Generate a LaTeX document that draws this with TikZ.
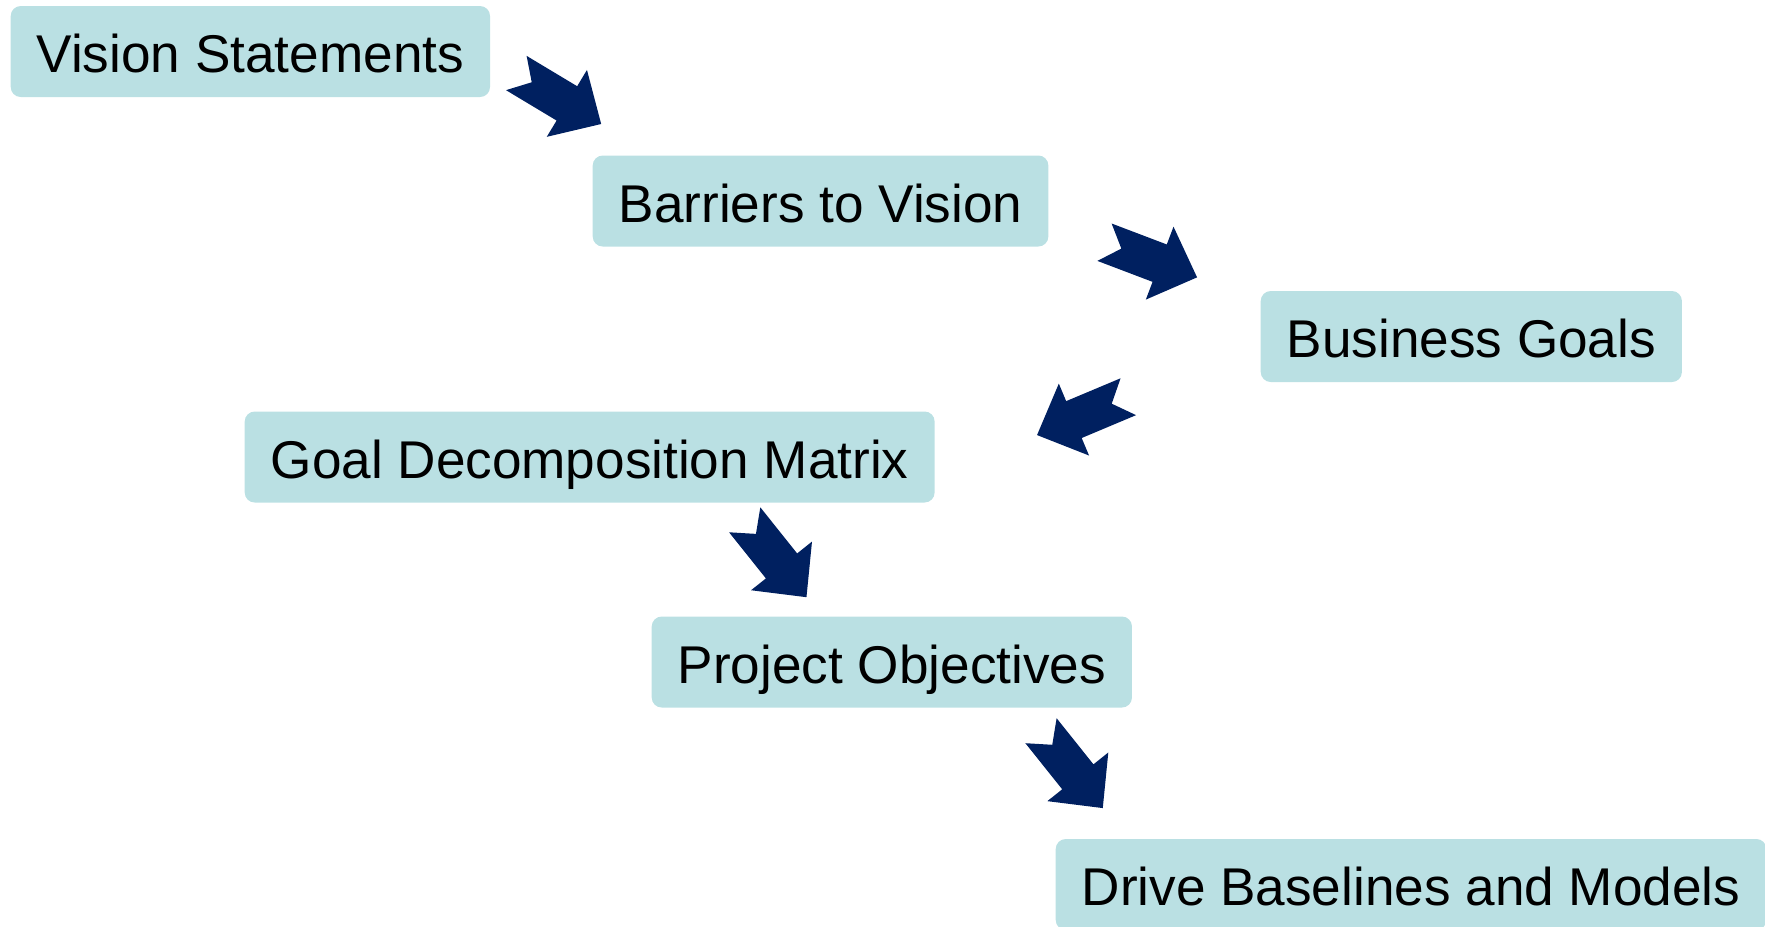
\documentclass[tikz,border=0pt]{standalone}
\usepackage{fontspec}
\setmainfont{Liberation Sans}
\definecolor{boxfill}{RGB}{186,224,227}
\definecolor{navy}{RGB}{0,32,96}
\tikzstyle{stage}=[fill=boxfill, rounded corners=0.1cm, anchor=west,
    inner xsep=0.26cm, inner ysep=0pt, minimum height=0.91cm,
    text height=0.42cm, text depth=0pt, font=\fontsize{15.12pt}{18pt}\selectfont]
\def\shaftw{0.2}
\def\headw{0.39}
\def\headx{0.59}
\def\tipx{0.99}
\def\notch{0.18}
% block arrow: tail centre, angle
\newcommand{\flowarrow}[2]{%
  \fill[navy, shift={#1}, rotate=#2] (0,\shaftw) -- (\headx,\shaftw)
    -- (\headx,\headw) -- (\tipx,0) -- (\headx,-\headw) -- (\headx,-\shaftw)
    -- (0,-\shaftw) -- (\notch,0) -- cycle;}

\begin{document}
\begin{tikzpicture}
	\useasboundingbox (0,0) rectangle (17.65,-9.26);

	\node (vision)   [stage] at (0.10,-0.515) {Vision Statements};
	\node (barriers) [stage] at (5.92,-2.01)  {Barriers to Vision};
	\node (goals)    [stage] at (12.60,-3.365) {Business Goals};
	\node (matrix)   [stage] at (2.44,-4.57)  {Goal Decomposition Matrix};
	\node (project)  [stage] at (6.51,-6.62)  {Project Objectives};
	\node (drive)    [stage] at (10.55,-8.845) {Drive Baselines and Models};

	%arrows between the stages
	\flowarrow{(5.163,-0.73)}{-31}
	\flowarrow{(11.045,-2.422)}{-20.8}
	\flowarrow{(11.283,-3.967)}{202.8}
	\flowarrow{(7.447,-5.198)}{-51.4}
	\flowarrow{(10.41,-7.307)}{-51.4}
\end{tikzpicture}
\end{document}
